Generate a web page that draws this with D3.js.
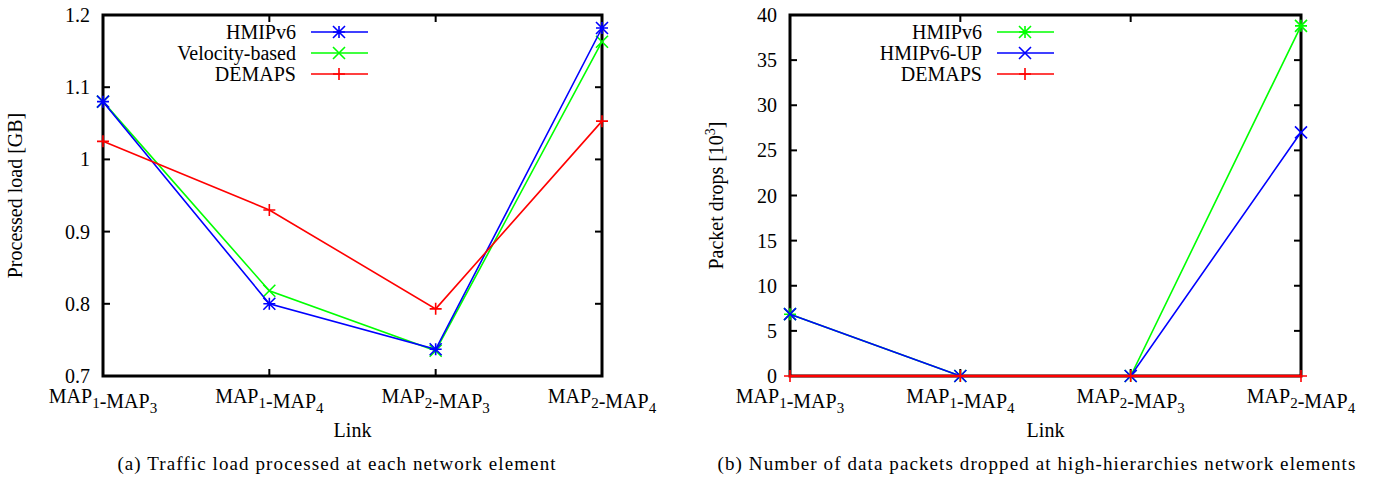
<!DOCTYPE html>
<html>
<head>
<meta charset="utf-8">
<script src="https://cdn.jsdelivr.net/npm/d3@7"></script>
<style>
  body { margin: 0; background: #fff; }
  text { font-family: "Liberation Serif", "DejaVu Serif", serif; fill: #000; }
</style>
</head>
<body>
<svg id="chart" width="1389" height="482"></svg>
<script>
// categories shared by both panels
var links = ['MAP1-MAP3', 'MAP1-MAP4', 'MAP2-MAP3', 'MAP2-MAP4'];

// (a) processed load in GB
var loadTicks = [0.7, 0.8, 0.9, 1.0, 1.1, 1.2];
var loadHmip = [1.080, 0.800, 0.737, 1.182];
var loadVelocity = [1.080, 0.818, 0.735, 1.163];
var loadDemaps = [1.025, 0.930, 0.793, 1.053];

// (b) packet drops in thousands
var dropTicks = [0, 5, 10, 15, 20, 25, 30, 35, 40];
var dropHmip = [6.85, 0, 0, 38.8];
var dropHmipUp = [6.85, 0, 0, 27.0];
var dropDemaps = [0, 0, 0, 0];

var svg = d3.select('#chart');

//marker shapes, gnuplot style
function markerPath(kind, r) {
    var plus = 'M' + (-r) + ',0H' + r + 'M0,' + (-r) + 'V' + r;
    var cross = 'M' + (-r) + ',' + (-r) + 'L' + r + ',' + r + 'M' + (-r) + ',' + r + 'L' + r + ',' + (-r);
    if (kind === 'plus') return plus;
    if (kind === 'cross') return cross;
    return plus + cross;
}

//write MAP1-MAP3 with subscripts
function subLabel(sel, str) {
    sel.text(null);
    var parts = str.match(/[A-Za-z\-]+|\d+/g);
    parts.forEach(function(p) {
        if (/^\d+$/.test(p)) {
            sel.append('tspan').attr('dy', 5).attr('font-size', 15).text(p);
            sel.append('tspan').attr('dy', -5).text('');
        } else {
            sel.append('tspan').text(p);
        }
    });
}

function drawPanel(cfg) {
    var g = svg.append('g');
    var x = d3.scalePoint().domain(links).range([cfg.left, cfg.right]);
    var y = d3.scaleLinear().domain(cfg.yDomain).range([cfg.bottom, cfg.top]);

    //inward ticks on all four sides
    var ticks = g.append('g').attr('stroke', '#000').attr('stroke-width', 2);
    cfg.yTicks.forEach(function(v) {
        ticks.append('line').attr('x1', cfg.left).attr('x2', cfg.left + 7)
            .attr('y1', y(v)).attr('y2', y(v));
        ticks.append('line').attr('x1', cfg.right).attr('x2', cfg.right - 7)
            .attr('y1', y(v)).attr('y2', y(v));
    });
    links.forEach(function(c) {
        ticks.append('line').attr('x1', x(c)).attr('x2', x(c))
            .attr('y1', cfg.bottom).attr('y2', cfg.bottom - 7);
        ticks.append('line').attr('x1', x(c)).attr('x2', x(c))
            .attr('y1', cfg.top).attr('y2', cfg.top + 7);
    });

    //y tick labels
    g.append('g').selectAll('text')
        .data(cfg.yTicks)
        .enter().append('text')
        .attr('x', cfg.left - 13)
        .attr('y', function(d) { return y(d) + 7; })
        .attr('text-anchor', 'end')
        .attr('font-size', 20)
        .text(cfg.yFormat);

    //x tick labels
    g.append('g').selectAll('text')
        .data(links)
        .enter().append('text')
        .attr('x', function(d) { return x(d); })
        .attr('y', cfg.bottom + 27)
        .attr('text-anchor', 'middle')
        .attr('font-size', 20)
        .each(function(d) { subLabel(d3.select(this), d); });

    //border
    g.append('rect')
        .attr('x', cfg.left).attr('y', cfg.top)
        .attr('width', cfg.right - cfg.left).attr('height', cfg.bottom - cfg.top)
        .attr('fill', 'none').attr('stroke', '#000').attr('stroke-width', 3);

    //series
    var line = d3.line()
        .x(function(d, i) { return x(links[i]); })
        .y(function(d) { return y(d); });
    cfg.series.forEach(function(s) {
        g.append('path').datum(s.values)
            .attr('d', line)
            .attr('fill', 'none')
            .attr('stroke', s.color)
            .attr('stroke-width', s.width || 1.6);
        g.append('g').selectAll('path')
            .data(s.values)
            .enter().append('path')
            .attr('transform', function(d, i) { return 'translate(' + x(links[i]) + ',' + y(d) + ')'; })
            .attr('d', markerPath(s.marker, 6))
            .attr('stroke', s.color)
            .attr('stroke-width', 1.6)
            .attr('fill', 'none');
    });

    //legend
    var leg = g.append('g');
    cfg.series.slice().sort(function(a, b) { return a.legendRow - b.legendRow; })
        .forEach(function(s, i) {
            var ly = cfg.legendY + i * 21;
            leg.append('text')
                .attr('x', cfg.legendX)
                .attr('y', ly + 7)
                .attr('text-anchor', 'end')
                .attr('font-size', 20)
                .text(s.name);
            leg.append('line')
                .attr('x1', cfg.legendX + 15).attr('x2', cfg.legendX + 72)
                .attr('y1', ly).attr('y2', ly)
                .attr('stroke', s.color).attr('stroke-width', 1.6);
            leg.append('path')
                .attr('transform', 'translate(' + (cfg.legendX + 43) + ',' + ly + ')')
                .attr('d', markerPath(s.marker, 6))
                .attr('stroke', s.color).attr('stroke-width', 1.6).attr('fill', 'none');
        });

    //axis titles
    var midX = (cfg.left + cfg.right) / 2;
    var midY = (cfg.top + cfg.bottom) / 2;
    g.append('text')
        .attr('x', midX).attr('y', cfg.bottom + 61)
        .attr('text-anchor', 'middle').attr('font-size', 20)
        .text('Link');
    var yl = g.append('text')
        .attr('transform', 'translate(' + cfg.yLabelX + ',' + midY + ') rotate(-90)')
        .attr('text-anchor', 'middle').attr('font-size', 20)
        .text(cfg.yLabel);
    if (cfg.yLabelSup) {
        yl.append('tspan').attr('dy', -8).attr('font-size', 14).text(cfg.yLabelSup);
        yl.append('tspan').attr('dy', 8).text(']');
    }

    g.append('text')
        .attr('x', cfg.captionX).attr('y', 470)
        .attr('text-anchor', 'middle').attr('font-size', 19)
        .attr('letter-spacing', 1.1)
        .text(cfg.caption);
}

drawPanel({
    left: 103, right: 602, top: 15, bottom: 376,
    yDomain: [0.7, 1.2], yTicks: loadTicks,
    yFormat: function(d) { return d === 1 ? '1' : d3.format('.1f')(d); },
    yLabel: 'Processed load [GB]', yLabelX: 22,
    legendX: 296, legendY: 32,
    caption: '(a) Traffic load processed at each network element', captionX: 337,
    series: [
        {name: 'Velocity-based', values: loadVelocity, color: '#00ff00', marker: 'cross', legendRow: 1},
        {name: 'HMIPv6', values: loadHmip, color: '#0000ff', marker: 'star', legendRow: 0},
        {name: 'DEMAPS', values: loadDemaps, color: '#ff0000', marker: 'plus', legendRow: 2}
    ]
});

drawPanel({
    left: 790, right: 1301, top: 15, bottom: 376,
    yDomain: [0, 40], yTicks: dropTicks,
    yFormat: function(d) { return String(d); },
    yLabel: 'Packet drops [10', yLabelSup: '3', yLabelX: 723,
    legendX: 982, legendY: 32,
    caption: '(b) Number of data packets dropped at high-hierarchies network elements', captionX: 1037,
    series: [
        {name: 'HMIPv6', values: dropHmip, color: '#00ff00', marker: 'star', legendRow: 0},
        {name: 'HMIPv6-UP', values: dropHmipUp, color: '#0000ff', marker: 'cross', legendRow: 1},
        {name: 'DEMAPS', values: dropDemaps, color: '#ff0000', marker: 'plus', legendRow: 2, width: 2.5}
    ]
});
</script>
</body>
</html>
